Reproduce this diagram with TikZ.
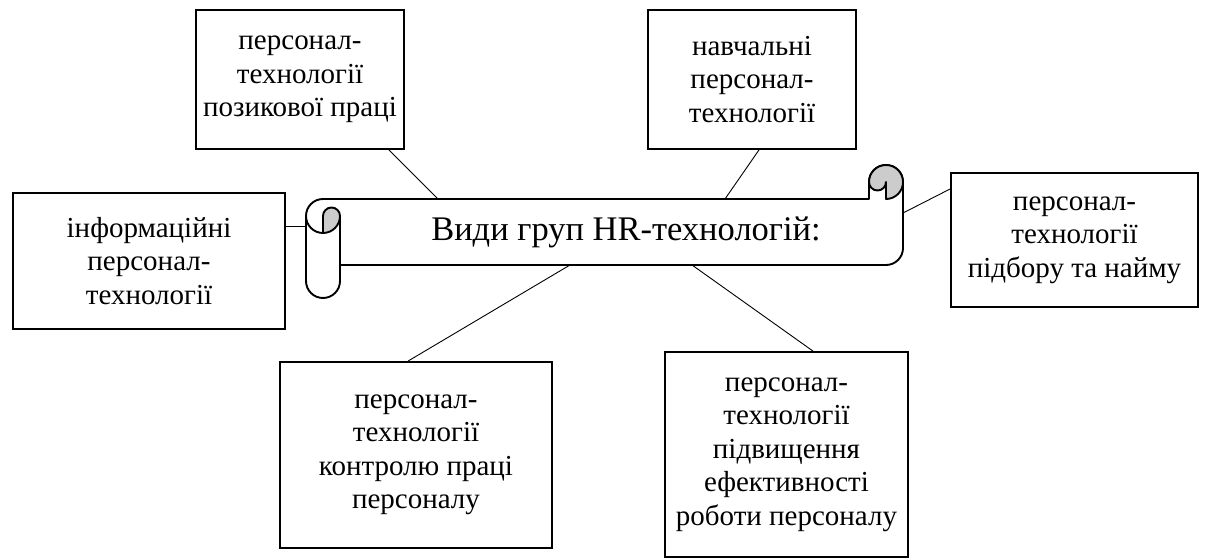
\documentclass[tikz,border=0pt]{standalone}
\usepackage{fontspec}
\setmainfont{Liberation Serif}
\definecolor{curlgray}{HTML}{CCCCCC}
\begin{document}
\begin{tikzpicture}[x=1pt,y=-1pt,
  box/.style={draw, line width=1.8pt, align=center, inner sep=0pt,
    font=\fontsize{29}{33.5}\selectfont},
  scrollline/.style={line width=1.9pt, line join=round},
  conn/.style={line width=0.9pt}]
\useasboundingbox (0,0) rectangle (1211,559);
% boxes
\node[box, minimum width=208pt, minimum height=139pt] (tl) at (300,79.5) {персонал-\\технології\\позикової праці};
\node[box, minimum width=208pt, minimum height=139pt] (tr) at (752,79.5) {навчальні\\персонал-\\технології};
\node[box, minimum width=272pt, minimum height=136pt] (lb) at (149,261) {інформаційні\\персонал-\\технології};
\node[box, minimum width=247pt, minimum height=134pt] (rb) at (1074.5,240) {персонал-\\технології\\підбору та найму};
\node[box, minimum width=272pt, minimum height=186pt] (bl) at (416,455) {персонал-\\технології\\контролю праці\\персоналу};
\node[box, minimum width=243pt, minimum height=205pt] (br) at (786.5,454.5) {персонал-\\технології\\підвищення\\ефективності\\роботи персоналу};
% scroll outline
\filldraw[scrollline, fill=white]
  (323,199) -- (869,199) -- (869,182) arc[start angle=180, end angle=360, radius=17]
  -- (903,248) arc[start angle=0, end angle=90, radius=17]
  -- (340,265) -- (340,281) arc[start angle=0, end angle=180, radius=17]
  -- (306,216) arc[start angle=180, end angle=270, radius=17] -- cycle;
% right curl
\filldraw[scrollline, fill=curlgray]
  (886,199) arc[start angle=90, end angle=-180, radius=17]
  arc[start angle=180, end angle=0, radius=8.5] -- cycle;
% left curl
\filldraw[scrollline, fill=curlgray]
  (323,216) arc[start angle=180, end angle=360, radius=8.5]
  arc[start angle=0, end angle=90, radius=17] -- cycle;
\draw[scrollline] (306,216) arc[start angle=180, end angle=90, radius=17];
\draw[scrollline] (340,216) -- (340,265);
\node[font=\fontsize{34.5}{40}\selectfont, inner sep=0pt] (title) at (626,232) {Види груп HR-технологій:};
% attachment points on the scroll
\coordinate (s1) at (438,199);
\coordinate (s2) at (725,199);
\coordinate (s3) at (306,226);
\coordinate (s4) at (903,213);
\coordinate (s5) at (570,265);
\coordinate (s6) at (692,265);
% connectors
\draw[conn] ([xshift=89pt]tl.south) -- (s1);
\draw[conn] ([xshift=7pt]tr.south) -- (s2);
\draw[conn] ([yshift=35pt]lb.east) -- (s3);
\draw[conn] ([yshift=51pt]rb.west) -- (s4);
\draw[conn] ([xshift=-8pt]bl.north) -- (s5);
\draw[conn] ([xshift=26.5pt]br.north) -- (s6);
\end{tikzpicture}
\end{document}
